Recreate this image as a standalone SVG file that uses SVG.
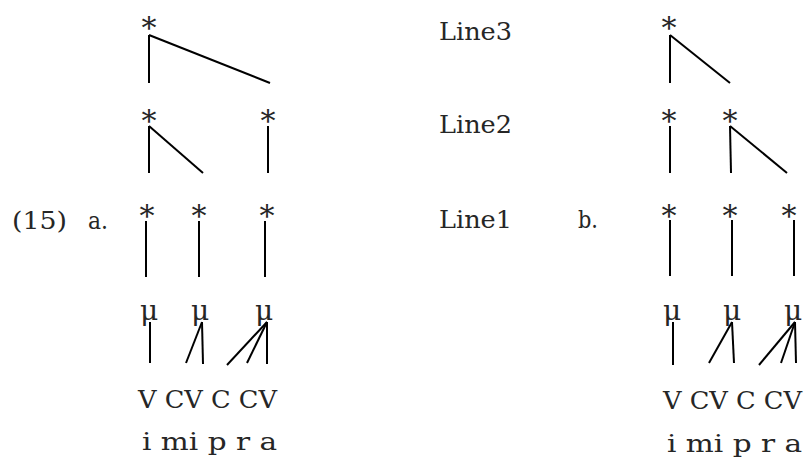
<svg xmlns="http://www.w3.org/2000/svg" width="808" height="461" viewBox="0 0 808 461">
  <style>
    text { font-family: "DejaVu Serif", "Liberation Serif", serif; fill: #262626; }
    .lbl { font-size: 25px; }
    .star { font-size: 30px; text-anchor: middle; }
    .mu { font-size: 28px; text-anchor: middle; }
    .seg { font-size: 25px; }
    .assoc line { stroke: #000; stroke-width: 2; stroke-linecap: butt; }
  </style>
  <rect width="808" height="461" fill="#fff"/>

  <!-- labels -->
  <g id="labels">
    <text class="lbl" x="12" y="229" textLength="55" lengthAdjust="spacingAndGlyphs">(15)</text>
    <text class="lbl" x="88" y="229" textLength="20" lengthAdjust="spacingAndGlyphs">a.</text>
    <text class="lbl" x="439" y="40" textLength="73" lengthAdjust="spacingAndGlyphs">Line3</text>
    <text class="lbl" x="439" y="133" textLength="73" lengthAdjust="spacingAndGlyphs">Line2</text>
    <text class="lbl" x="439" y="228" textLength="73" lengthAdjust="spacingAndGlyphs">Line1</text>
    <text class="lbl" x="578" y="228" textLength="20" lengthAdjust="spacingAndGlyphs">b.</text>
  </g>

  <!-- grid a -->
  <g id="grid-a">
    <text class="star" x="149" y="38">*</text>
    <text class="star" x="149" y="131">*</text>
    <text class="star" x="268" y="131">*</text>
    <text class="star" x="147" y="226">*</text>
    <text class="star" x="199" y="226">*</text>
    <text class="star" x="267" y="226">*</text>
    <text class="mu" x="149" y="320">μ</text>
    <text class="mu" x="200" y="320">μ</text>
    <text class="mu" x="264" y="320">μ</text>
    <text class="seg" x="138" y="408" textLength="139" lengthAdjust="spacingAndGlyphs">V CV C CV</text>
    <text class="seg" x="142" y="450" textLength="135" lengthAdjust="spacingAndGlyphs">i mi p r a</text>
  </g>

  <!-- grid b -->
  <g id="grid-b">
    <text class="star" x="669" y="38">*</text>
    <text class="star" x="669" y="131">*</text>
    <text class="star" x="730" y="131">*</text>
    <text class="star" x="669" y="226">*</text>
    <text class="star" x="730" y="226">*</text>
    <text class="star" x="789" y="226">*</text>
    <text class="mu" x="672" y="320">μ</text>
    <text class="mu" x="732" y="320">μ</text>
    <text class="mu" x="793" y="320">μ</text>
    <text class="seg" x="663" y="409" textLength="139" lengthAdjust="spacingAndGlyphs">V CV C CV</text>
    <text class="seg" x="667" y="452" textLength="135" lengthAdjust="spacingAndGlyphs">i mi p r a</text>
  </g>

  <!-- association lines -->
  <g id="connectors" class="assoc">
    <!-- a -->
    <line x1="149" y1="35" x2="149" y2="83"/>
    <line x1="149" y1="35" x2="270" y2="83"/>
    <line x1="149" y1="126" x2="149" y2="173"/>
    <line x1="149" y1="126" x2="203" y2="173"/>
    <line x1="268" y1="126" x2="268" y2="173"/>
    <line x1="146" y1="221" x2="146" y2="277"/>
    <line x1="199" y1="221" x2="199" y2="277"/>
    <line x1="265" y1="221" x2="265" y2="277"/>
    <line x1="150" y1="322" x2="150" y2="363"/>
    <line x1="202" y1="322" x2="186" y2="363"/>
    <line x1="202" y1="322" x2="203" y2="364"/>
    <line x1="267" y1="322" x2="227" y2="365"/>
    <line x1="267" y1="322" x2="247" y2="363"/>
    <line x1="267" y1="322" x2="267" y2="364"/>
    <!-- b -->
    <line x1="670" y1="35" x2="670" y2="83"/>
    <line x1="670" y1="35" x2="730" y2="83"/>
    <line x1="670" y1="126" x2="670" y2="173"/>
    <line x1="730" y1="126" x2="731" y2="173"/>
    <line x1="730" y1="126" x2="787" y2="173"/>
    <line x1="670" y1="220" x2="670" y2="276"/>
    <line x1="732" y1="220" x2="732" y2="276"/>
    <line x1="794" y1="220" x2="794" y2="276"/>
    <line x1="673" y1="322" x2="673" y2="365"/>
    <line x1="732" y1="322" x2="709" y2="363"/>
    <line x1="732" y1="322" x2="734" y2="363"/>
    <line x1="795" y1="322" x2="759" y2="365"/>
    <line x1="795" y1="322" x2="781" y2="363"/>
    <line x1="795" y1="322" x2="796" y2="363"/>
  </g>
</svg>
